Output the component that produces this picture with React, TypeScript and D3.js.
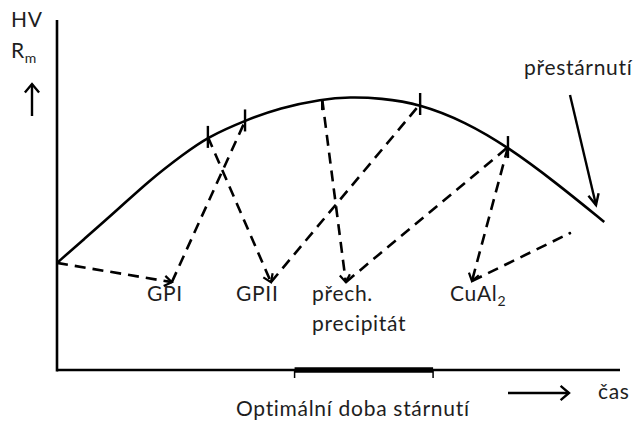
import React from "react";
import * as d3 from "d3";

// Hardness / strength curve vs. ageing time (arbitrary units 0..100)
const curveTime = [0, 4.6, 10.7, 16.5, 22.4, 26.8, 33.4, 39.6, 47.1, 52.0, 57.4, 64.5, 72.5, 80.1, 88.5, 97.2];
const curveValue = [30.6, 37.1, 45.7, 54.3, 61.6, 66.6, 71.3, 74.9, 77.4, 78.0, 77.7, 76.0, 70.9, 63.7, 53.7, 42.3];

// stage marks on the curve (indices into the curve arrays)
const stageIndex = [5, 6, 8, 11, 13];
const stageTickUp = [1, 1, 0, 1, 1];

// dashed transformation path: [time, value]
const pathTime = [0, 20.4, 33.4, 26.8, 38.0, 64.5, 47.1, 51.3, 80.1, 73.7, 91.1];
const pathValue = [30.6, 25.1, 71.1, 66.6, 25.1, 76.0, 77.4, 25.1, 63.7, 25.4, 39.1];
// segments: [from, to, arrow at end]
const segFrom = [0, 1, 3, 4, 6, 7, 8, 9];
const segTo = [1, 2, 4, 5, 7, 8, 9, 10];
const segArrow = [1, 0, 1, 0, 1, 0, 1, 0];

// optimal ageing window on the time axis
const optimalStart = 42.2;
const optimalEnd = 66.8;

const W = 639;
const H = 423;
const FONT = "Lato, 'Open Sans', sans-serif";
const TXT = "#1e1e1e";

function chevron(x: number, y: number, angle: number, len: number, spread: number) {
  const a1 = angle + Math.PI - spread;
  const a2 = angle + Math.PI + spread;
  return `M${x + len * Math.cos(a1)},${y + len * Math.sin(a1)}L${x},${y}L${x + len * Math.cos(a2)},${y + len * Math.sin(a2)}`;
}

export default function App() {
  const x = d3.scaleLinear().domain([0, 100]).range([57, 620]);
  const y = d3.scaleLinear().domain([0, 100]).range([370, 20]);

  const line = d3
    .line<number>()
    .x((i) => x(curveTime[i]))
    .y((i) => y(curveValue[i]))
    .curve(d3.curveBasis);
  const curvePath = line(curveTime.map((_, i) => i)) || "";

  const segs = segFrom.map((f, k) => {
    const t = segTo[k];
    const x1 = x(pathTime[f]);
    const y1 = y(pathValue[f]);
    const x2 = x(pathTime[t]);
    const y2 = y(pathValue[t]);
    return { x1, y1, x2, y2, arrow: segArrow[k] === 1, ang: Math.atan2(y2 - y1, x2 - x1) };
  });

  return (
    <svg width={W} height={H} style={{ position: "absolute", left: 0, top: 0, background: "#fff" }}>
      {/* axes */}
      <line x1={x(0)} y1={y(100)} x2={x(0)} y2={y(0) + 1.5} stroke="#000" strokeWidth={2.6} />
      <line x1={x(0)} y1={y(0)} x2={x(100)} y2={y(0)} stroke="#000" strokeWidth={2.6} />
      {/* optimal window */}
      <line x1={x(optimalStart)} y1={y(0)} x2={x(optimalEnd)} y2={y(0)} stroke="#000" strokeWidth={5.5} />
      <line x1={x(optimalStart)} y1={y(0)} x2={x(optimalStart)} y2={y(0) + 8} stroke="#000" strokeWidth={1.5} />
      <line x1={x(optimalEnd)} y1={y(0)} x2={x(optimalEnd)} y2={y(0) + 8} stroke="#000" strokeWidth={1.5} />

      {/* curve */}
      <path d={curvePath} fill="none" stroke="#000" strokeWidth={2.6} />
      {stageIndex.map((si, k) => {
        const cx = x(curveTime[si]);
        const cy = y(curveValue[si]);
        return (
          <line key={k} x1={cx} y1={stageTickUp[k] ? cy - 11 : cy} x2={cx} y2={cy + 11} stroke="#000" strokeWidth={2.4} />
        );
      })}

      {/* dashed transformation path */}
      {segs.map((s, k) => (
        <g key={k}>
          <line x1={s.x1} y1={s.y1} x2={s.x2} y2={s.y2} stroke="#000" strokeWidth={2.6} strokeDasharray="11 7" />
          {s.arrow && (
            <path d={chevron(s.x2, s.y2, s.ang, 9, 0.6)} fill="none" stroke="#000" strokeWidth={2.2} />
          )}
        </g>
      ))}
      <circle cx={x(pathTime[10])} cy={y(pathValue[10])} r={1.3} fill="#000" />

      {/* přestárnutí arrow */}
      <line x1={570} y1={95} x2={596} y2={205} stroke="#000" strokeWidth={2.4} />
      <path d={chevron(596, 205, Math.atan2(110, 26), 12, 0.45)} fill="none" stroke="#000" strokeWidth={2.4} />

      {/* y arrow */}
      <line x1={32} y1={116} x2={32} y2={84} stroke="#000" strokeWidth={2.4} />
      <path d={chevron(32, 84, -Math.PI / 2, 11, 0.7)} fill="none" stroke="#000" strokeWidth={2.4} />

      {/* x arrow */}
      <line x1={508} y1={393} x2={569} y2={393} stroke="#000" strokeWidth={2.4} />
      <path d={chevron(569, 393, 0, 11, 0.7)} fill="none" stroke="#000" strokeWidth={2.4} />

      {/* texts */}
      <g fontFamily={FONT} fill={TXT} fontSize={21} letterSpacing={0.7}>
        <text x={11} y={27}>HV</text>
        <text x={11} y={58}>R<tspan fontSize={14} dy={5}>m</tspan></text>
        <text x={524} y={75}>přestárnutí</text>
        <text x={147} y={301}>GPI</text>
        <text x={236} y={301}>GPII</text>
        <text x={312} y={301}>přech.</text>
        <text x={312} y={331}>precipitát</text>
        <text x={450} y={301}>CuAl<tspan fontSize={14} dy={5}>2</tspan></text>
        <text x={236} y={416}>Optimální doba stárnutí</text>
        <text x={598} y={399}>čas</text>
      </g>
    </svg>
  );
}
